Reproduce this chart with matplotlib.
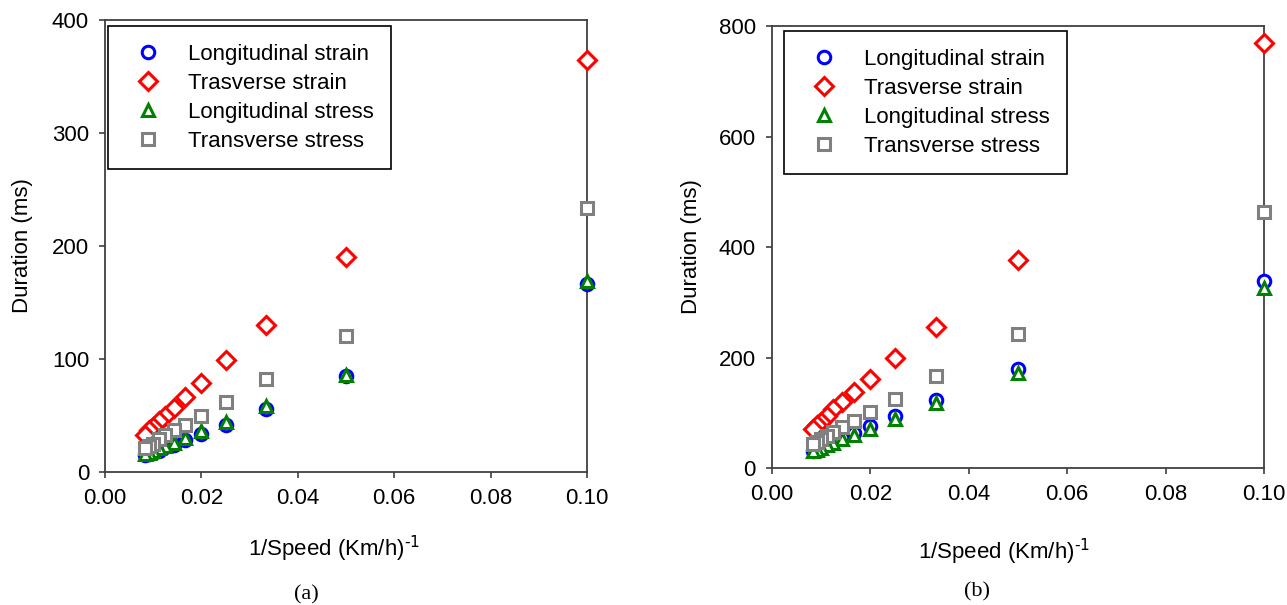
import matplotlib
matplotlib.use("Agg")
import matplotlib.pyplot as plt

plt.rcParams['font.family'] = ['Liberation Sans', 'DejaVu Sans']
plt.rcParams['mathtext.default'] = 'regular'

# speeds 10..120 km/h -> 1/speed
speed = [10, 20, 30, 40, 50, 60, 70, 80, 90, 100, 110, 120]
inv_speed = [1.0 / s for s in speed]

# (a) durations in ms
a_long_strain = [166, 85, 56, 42, 34, 28, 24, 22, 19, 17, 16, 15]
a_trans_strain = [365, 190, 130, 99, 79, 66, 57, 50, 45, 40, 37, 33]
a_long_stress = [169, 86, 58, 44, 36, 30, 26, 23, 21, 19, 17, 16]
a_trans_stress = [234, 120, 82, 62, 50, 42, 37, 33, 29, 25, 23, 21]

# (b) durations in ms
b_long_strain = [338, 179, 124, 94, 76, 64, 55, 48, 43, 38, 34, 30]
b_trans_strain = [769, 376, 255, 199, 162, 138, 120, 106, 94, 84, 77, 70]
b_long_stress = [326, 172, 118, 89, 71, 60, 52, 45, 41, 36, 33, 30]
b_trans_stress = [463, 243, 167, 125, 101, 85, 74, 65, 58, 53, 48, 44]

labels = ["Longitudinal strain", "Trasverse strain", "Longitudinal stress", "Transverse stress"]
markers = ['o', 'D', '^', 's']
colors = ['#0000ff', '#ff0000', '#008000', '#808080']

a_yticks = [0, 100, 200, 300, 400]
b_yticks = [0, 200, 400, 600, 800]
xticks = [0.00, 0.02, 0.04, 0.06, 0.08, 0.10]

fig = plt.figure(figsize=(12.87, 6.05), dpi=100)
ax1 = fig.add_axes([0.0816, 0.2198, 0.3745, 0.7471])
ax2 = fig.add_axes([0.5998, 0.2264, 0.3823, 0.7306])


def draw_panel(ax, series, yticks, legend_anchor, ylab_x, xlab_pos):
    for ys, m, c, lab in zip(series, markers, colors, labels):
        ax.plot(inv_speed, ys, linestyle='none', marker=m, markersize=9,
                markerfacecolor='white', markeredgecolor=c, markeredgewidth=2.2,
                label=lab, clip_on=False, zorder=3)
    ax.set_xlim(0, 0.1)
    ax.set_ylim(yticks[0], yticks[-1])
    ax.set_xticks(xticks)
    ax.set_xticklabels(["%.2f" % t for t in xticks])
    ax.set_yticks(yticks)
    ax.tick_params(axis='both', direction='out', length=4.5, width=1.2,
                   labelsize=16, pad=7, color='#404040', top=False, right=False)
    for sp in ax.spines.values():
        sp.set_color('#404040')
        sp.set_linewidth(1.3)
    ax.set_ylabel("Duration (ms)", fontsize=16)
    ax.set_xlabel(r"1/Speed (Km/h)$^{\text{-1}}$", fontsize=16)
    ax.yaxis.set_label_coords(ylab_x, 0.5)
    ax.xaxis.set_label_coords(xlab_pos[0], xlab_pos[1])
    leg = ax.legend(loc='upper left', bbox_to_anchor=legend_anchor, fontsize=16,
                    frameon=True, fancybox=False, framealpha=1, edgecolor='black',
                    borderpad=0.8, labelspacing=0.36, handlelength=2.04,
                    handletextpad=0.75, borderaxespad=0, numpoints=1)
    leg.get_frame().set_linewidth(1.2)


draw_panel(ax1, [a_long_strain, a_trans_strain, a_long_stress, a_trans_stress],
           a_yticks, (0.006, 0.987), -0.149, (0.475, -0.137))
draw_panel(ax2, [b_long_strain, b_trans_strain, b_long_stress, b_trans_stress],
           b_yticks, (0.024, 0.989), -0.143, (0.472, -0.156))

fig.text(306 / 1287, 1 - 595 / 605, "(a)", ha='center', va='center',
         fontsize=16, family=['Liberation Serif', 'DejaVu Serif'])
fig.text(977 / 1287, 1 - 592 / 605, "(b)", ha='center', va='center',
         fontsize=16, family=['Liberation Serif', 'DejaVu Serif'])

plt.savefig("out.png", dpi=100)
